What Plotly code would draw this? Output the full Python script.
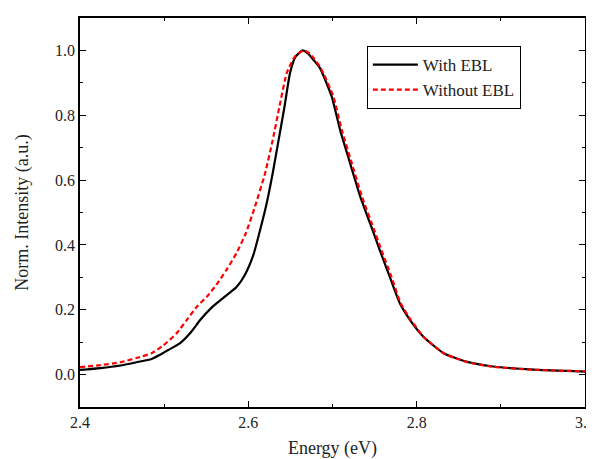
import plotly.graph_objects as go

# Data
energy_with = [2.400, 2.424, 2.448, 2.467, 2.485, 2.495, 2.505, 2.519, 2.531, 2.543,
               2.557, 2.570, 2.586, 2.596, 2.606, 2.612, 2.621, 2.629, 2.636, 2.643,
               2.6495, 2.656, 2.6645, 2.671, 2.677, 2.685, 2.699, 2.709, 2.720,
               2.733, 2.747, 2.756, 2.768, 2.780, 2.792, 2.808, 2.832, 2.859, 2.891,
               2.939, 3.000]
int_with = [0.0145, 0.020, 0.028, 0.038, 0.048, 0.061, 0.076, 0.097, 0.128, 0.169,
            0.208, 0.236, 0.270, 0.308, 0.369, 0.426, 0.519, 0.622, 0.724, 0.827,
            0.930, 0.980, 1.000, 0.990, 0.972, 0.946, 0.858, 0.755, 0.660,
            0.549, 0.450, 0.385, 0.302, 0.220, 0.169, 0.117, 0.066, 0.040, 0.025,
            0.015, 0.009]

energy_without = [2.400, 2.424, 2.448, 2.467, 2.485, 2.499, 2.515, 2.527, 2.539, 2.551,
                  2.562, 2.574, 2.586, 2.597, 2.608, 2.620, 2.629, 2.637, 2.6456, 2.655,
                  2.6655, 2.672, 2.678, 2.686, 2.701, 2.711, 2.722, 2.735, 2.749,
                  2.758, 2.770, 2.781, 2.793, 2.808, 2.832, 2.859, 2.891, 2.939, 3.000]
int_without = [0.023, 0.029, 0.038, 0.051, 0.066, 0.090, 0.128, 0.169, 0.210, 0.241,
               0.277, 0.323, 0.375, 0.436, 0.519, 0.622, 0.724, 0.827, 0.930, 0.980,
               1.000, 0.992, 0.975, 0.946, 0.858, 0.755, 0.660, 0.549, 0.450,
               0.385, 0.302, 0.220, 0.169, 0.117, 0.066, 0.039, 0.024, 0.015, 0.010]

x_ticks = [2.4, 2.6, 2.8, 3.0]
y_ticks = [0.0, 0.2, 0.4, 0.6, 0.8, 1.0]

FONT = "Times New Roman, Liberation Serif, serif"

fig = go.Figure()
fig.add_trace(go.Scatter(x=energy_with, y=int_with, mode="lines", name="With EBL",
                         line=dict(color="black", width=2.2, shape="spline", smoothing=0.5)))
fig.add_trace(go.Scatter(x=energy_without, y=int_without, mode="lines", name="Without EBL",
                         line=dict(color="#ff0000", width=2.2, dash="5px,3px",
                                   shape="spline", smoothing=0.5)))

axis_common = dict(showline=True, linecolor="black", linewidth=1.5, mirror="ticks",
                   ticks="inside", ticklen=6, tickwidth=1.2, tickcolor="black",
                   showgrid=False, zeroline=False, automargin=False,
                   tickfont=dict(family=FONT, size=16, color="#222"))

fig.update_xaxes(range=[2.4, 3.0], tickvals=x_ticks, ticktext=[f"{v:.1f}" for v in x_ticks],
                 minor=dict(dtick=0.1, ticks="inside", ticklen=3, tickwidth=1.2,
                            tickcolor="black", tick0=2.4),
                 title=dict(text="Energy (eV)", font=dict(family=FONT, size=18, color="#222"),
                            standoff=16),
                 **axis_common)
fig.update_yaxes(range=[-0.1, 1.1], tickvals=y_ticks, ticktext=[f"{v:.1f}" for v in y_ticks],
                 minor=dict(dtick=0.1, ticks="inside", ticklen=3, tickwidth=1.2,
                            tickcolor="black", tick0=0),
                 title=dict(text="Norm. Intensity (a.u.)",
                            font=dict(family=FONT, size=18, color="#222"), standoff=22),
                 **axis_common)

# page body has an 8px margin; figure sized so plot area lands where the reference has it
fig.update_layout(
    width=594, height=451,
    margin=dict(l=72, r=17, t=10, b=52),
    paper_bgcolor="white", plot_bgcolor="white",
    font=dict(family=FONT, color="#222"),
    legend=dict(x=0.568, y=0.928, xanchor="left", yanchor="top",
                bordercolor="black", borderwidth=1, bgcolor="white",
                font=dict(family=FONT, size=17, color="#222"),
                itemwidth=45, tracegroupgap=0),
    showlegend=True,
)

fig.write_html("out.html", config={"displayModeBar": False},
               post_script="document.body.style.overflow='hidden';")
